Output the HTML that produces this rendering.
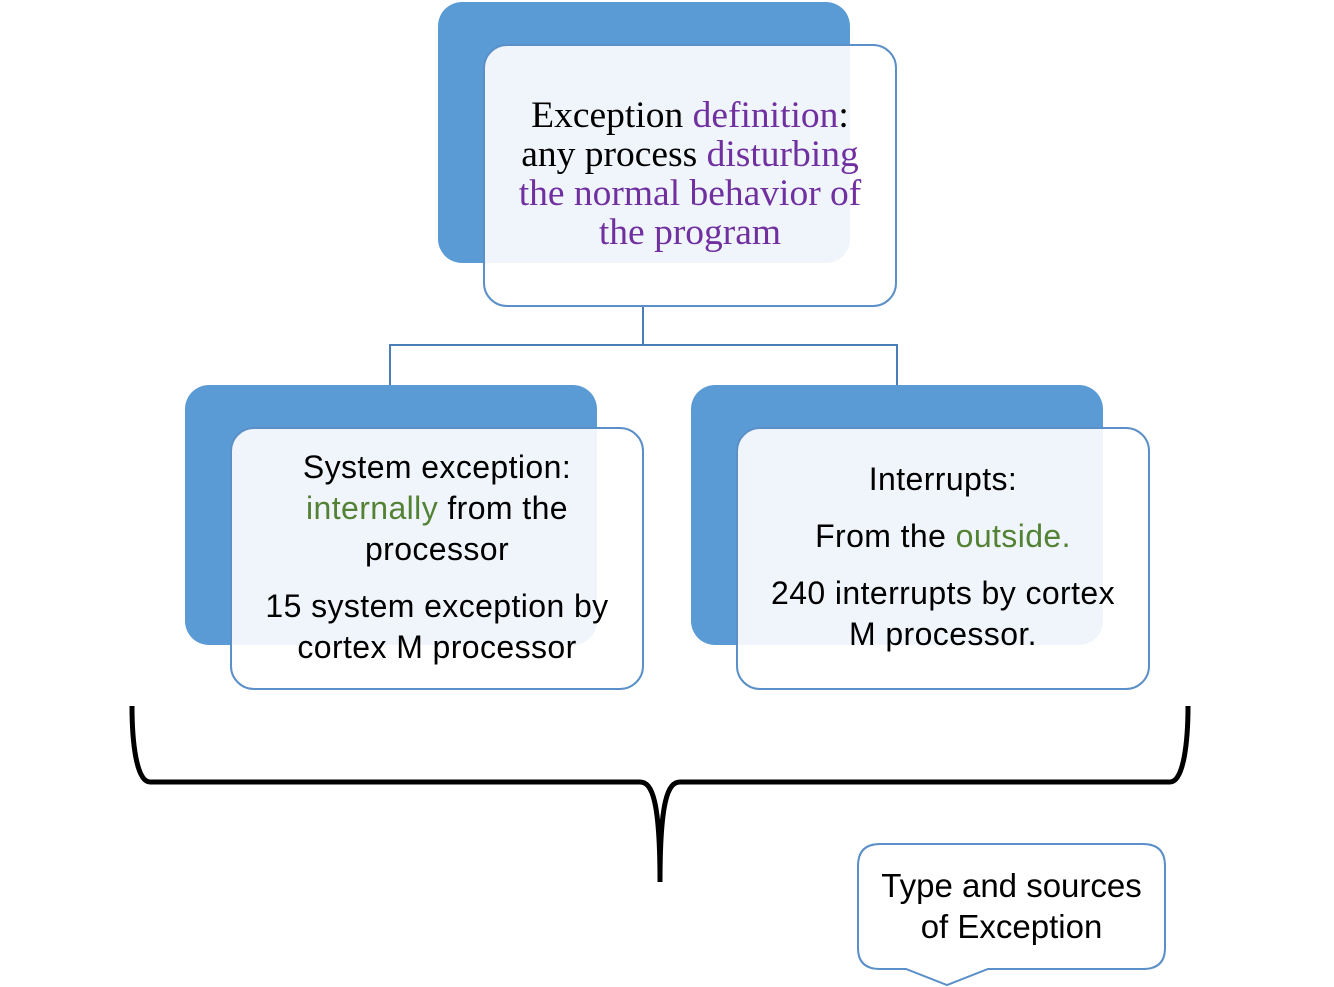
<!DOCTYPE html>
<html><head><style>
body{margin:0;width:1334px;height:987px;background:#fff;position:relative;overflow:hidden}
.b{position:absolute;background:#5b9bd5;border-radius:24px}
.w{position:absolute;background:rgba(255,255,255,0.9);border:2px solid #5b8fc7;border-radius:24px;box-sizing:border-box}
.t{position:absolute;text-align:center;font-family:"Liberation Sans",sans-serif;color:#000;white-space:nowrap}
.p{color:#7030a0}.g{color:#548235}
</style></head><body>
<div class="b" style="left:438px;top:2px;width:412px;height:261px"></div>
<div class="w" style="left:483px;top:44px;width:414px;height:263px"></div>
<div class="b" style="left:185px;top:385px;width:412px;height:260px"></div>
<div class="w" style="left:230px;top:427px;width:414px;height:263px"></div>
<div class="b" style="left:691px;top:385px;width:412px;height:260px"></div>
<div class="w" style="left:736px;top:427px;width:414px;height:263px"></div>
<svg width="1334" height="987" style="position:absolute;left:0;top:0">
<path d="M643 307V345M390 385V345H897V385" stroke="#4a7eb5" stroke-width="2" fill="none"/>
<path d="M132 706 C132 740 136 782 150 782 H640 C652 782 660 800 660 882 C660 800 668 782 680 782 H1170 C1184 782 1188 740 1188 706" stroke="#000" stroke-width="5" fill="none"/>
<path d="M880 844 H1143 Q1165 844 1165 866 V948 Q1165 969 1143 969 H988 L947 985 L906 969 H880 Q858 969 858 948 V866 Q858 844 880 844Z" fill="#fff" stroke="#5b8fc7" stroke-width="2"/>
</svg>
<div class="t" style="left:483px;top:96px;width:414px;font-family:'Liberation Serif',serif;font-size:37.5px;line-height:39px">Exception <span class="p">definition</span>:<br>any process <span class="p">disturbing<br>the normal behavior of<br>the program</span></div>
<div class="t" style="left:230px;top:447px;width:414px;font-size:32px;letter-spacing:0.4px;line-height:41px">System exception:<br><span class="g">internally</span> from the<br>processor<div style="height:16px"></div>15 system exception by<br>cortex M processor</div>
<div class="t" style="left:736px;top:459px;width:414px;font-size:32px;letter-spacing:0.4px;line-height:41px">Interrupts:<div style="height:16px"></div>From the <span class="g">outside.</span><div style="height:16px"></div>240 interrupts by cortex<br>M processor.</div>
<div class="t" style="left:858px;top:865px;width:307px;font-size:33px;line-height:41px">Type and sources<br>of Exception</div>
</body></html>
